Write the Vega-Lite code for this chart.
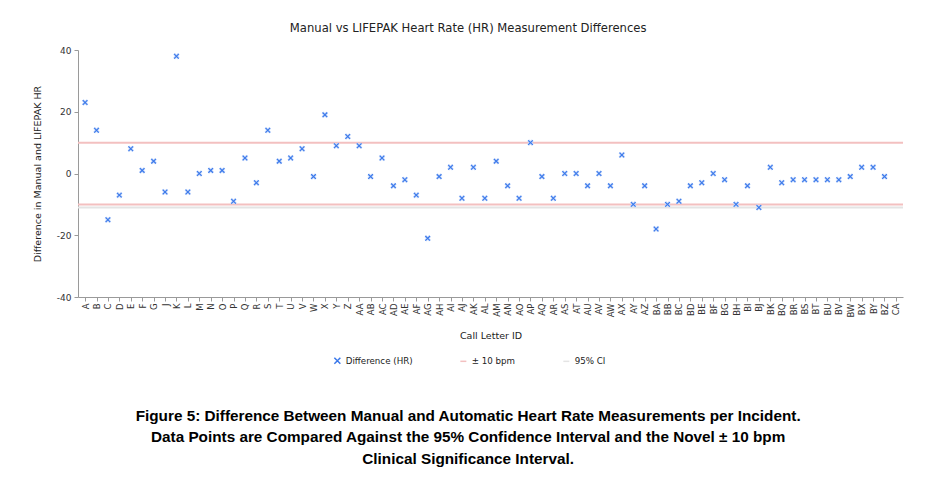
{
  "$schema": "https://vega.github.io/schema/vega-lite/v6.json",
  "padding": {"left": 32, "top": 23, "right": 10, "bottom": 10},
  "background": "white",
  "config": {
    "view": {"stroke": null},
    "font": "DejaVu Sans"
  },
  "datasets": {
    "diffs": [
      {"id": "A", "diff": 23, "series": "Difference (HR)"},
      {"id": "B", "diff": 14, "series": "Difference (HR)"},
      {"id": "C", "diff": -15, "series": "Difference (HR)"},
      {"id": "D", "diff": -7, "series": "Difference (HR)"},
      {"id": "E", "diff": 8, "series": "Difference (HR)"},
      {"id": "F", "diff": 1, "series": "Difference (HR)"},
      {"id": "G", "diff": 4, "series": "Difference (HR)"},
      {"id": "J", "diff": -6, "series": "Difference (HR)"},
      {"id": "K", "diff": 38, "series": "Difference (HR)"},
      {"id": "L", "diff": -6, "series": "Difference (HR)"},
      {"id": "M", "diff": 0, "series": "Difference (HR)"},
      {"id": "N", "diff": 1, "series": "Difference (HR)"},
      {"id": "O", "diff": 1, "series": "Difference (HR)"},
      {"id": "P", "diff": -9, "series": "Difference (HR)"},
      {"id": "Q", "diff": 5, "series": "Difference (HR)"},
      {"id": "R", "diff": -3, "series": "Difference (HR)"},
      {"id": "S", "diff": 14, "series": "Difference (HR)"},
      {"id": "T", "diff": 4, "series": "Difference (HR)"},
      {"id": "U", "diff": 5, "series": "Difference (HR)"},
      {"id": "V", "diff": 8, "series": "Difference (HR)"},
      {"id": "W", "diff": -1, "series": "Difference (HR)"},
      {"id": "X", "diff": 19, "series": "Difference (HR)"},
      {"id": "Y", "diff": 9, "series": "Difference (HR)"},
      {"id": "Z", "diff": 12, "series": "Difference (HR)"},
      {"id": "AA", "diff": 9, "series": "Difference (HR)"},
      {"id": "AB", "diff": -1, "series": "Difference (HR)"},
      {"id": "AC", "diff": 5, "series": "Difference (HR)"},
      {"id": "AD", "diff": -4, "series": "Difference (HR)"},
      {"id": "AE", "diff": -2, "series": "Difference (HR)"},
      {"id": "AF", "diff": -7, "series": "Difference (HR)"},
      {"id": "AG", "diff": -21, "series": "Difference (HR)"},
      {"id": "AH", "diff": -1, "series": "Difference (HR)"},
      {"id": "AI", "diff": 2, "series": "Difference (HR)"},
      {"id": "AJ", "diff": -8, "series": "Difference (HR)"},
      {"id": "AK", "diff": 2, "series": "Difference (HR)"},
      {"id": "AL", "diff": -8, "series": "Difference (HR)"},
      {"id": "AM", "diff": 4, "series": "Difference (HR)"},
      {"id": "AN", "diff": -4, "series": "Difference (HR)"},
      {"id": "AO", "diff": -8, "series": "Difference (HR)"},
      {"id": "AP", "diff": 10, "series": "Difference (HR)"},
      {"id": "AQ", "diff": -1, "series": "Difference (HR)"},
      {"id": "AR", "diff": -8, "series": "Difference (HR)"},
      {"id": "AS", "diff": 0, "series": "Difference (HR)"},
      {"id": "AT", "diff": 0, "series": "Difference (HR)"},
      {"id": "AU", "diff": -4, "series": "Difference (HR)"},
      {"id": "AV", "diff": 0, "series": "Difference (HR)"},
      {"id": "AW", "diff": -4, "series": "Difference (HR)"},
      {"id": "AX", "diff": 6, "series": "Difference (HR)"},
      {"id": "AY", "diff": -10, "series": "Difference (HR)"},
      {"id": "AZ", "diff": -4, "series": "Difference (HR)"},
      {"id": "BA", "diff": -18, "series": "Difference (HR)"},
      {"id": "BB", "diff": -10, "series": "Difference (HR)"},
      {"id": "BC", "diff": -9, "series": "Difference (HR)"},
      {"id": "BD", "diff": -4, "series": "Difference (HR)"},
      {"id": "BE", "diff": -3, "series": "Difference (HR)"},
      {"id": "BF", "diff": 0, "series": "Difference (HR)"},
      {"id": "BG", "diff": -2, "series": "Difference (HR)"},
      {"id": "BH", "diff": -10, "series": "Difference (HR)"},
      {"id": "BI", "diff": -4, "series": "Difference (HR)"},
      {"id": "BJ", "diff": -11, "series": "Difference (HR)"},
      {"id": "BK", "diff": 2, "series": "Difference (HR)"},
      {"id": "BQ", "diff": -3, "series": "Difference (HR)"},
      {"id": "BR", "diff": -2, "series": "Difference (HR)"},
      {"id": "BS", "diff": -2, "series": "Difference (HR)"},
      {"id": "BT", "diff": -2, "series": "Difference (HR)"},
      {"id": "BU", "diff": -2, "series": "Difference (HR)"},
      {"id": "BV", "diff": -2, "series": "Difference (HR)"},
      {"id": "BW", "diff": -1, "series": "Difference (HR)"},
      {"id": "BX", "diff": 2, "series": "Difference (HR)"},
      {"id": "BY", "diff": 2, "series": "Difference (HR)"},
      {"id": "BZ", "diff": -1, "series": "Difference (HR)"}
    ],
    "refs": [
      {"y": 10, "series": "± 10 bpm"},
      {"y": -10, "series": "± 10 bpm"},
      {"y": -11, "series": "95% CI"}
    ]
  },
  "title": {
    "text": [
      "Figure 5: Difference Between Manual and Automatic Heart Rate Measurements per Incident.",
      "Data Points are Compared Against the 95% Confidence Interval and the Novel ± 10 bpm",
      "Clinical Significance Interval."
    ],
    "orient": "bottom",
    "anchor": "middle",
    "frame": "bounds",
    "font": "Liberation Sans",
    "fontSize": 15.3,
    "fontWeight": "bold",
    "lineHeight": 21.3,
    "color": "#000000",
    "offset": 42
  },
  "vconcat": [
    {
      "width": 825,
      "height": 247,
      "title": {
        "text": "Manual vs LIFEPAK Heart Rate (HR) Measurement Differences",
        "anchor": "middle",
        "frame": "bounds",
        "font": "DejaVu Sans",
        "fontSize": 11.6,
        "fontWeight": "normal",
        "color": "#222222",
        "offset": 11
      },
      "layer": [
        {
          "data": {"name": "refs"},
          "mark": {"type": "rule", "strokeWidth": 2},
          "encoding": {
            "y": {"field": "y", "type": "quantitative", "scale": {"domain": [-40, 40], "nice": false}},
            "color": {
              "field": "series",
              "type": "nominal",
              "scale": {
                "domain": ["Difference (HR)", "± 10 bpm", "95% CI"],
                "range": ["#3a78ea", "#f3c0c0", "#e4e4e4"]
              },
              "legend": {
                "title": null,
                "orient": "none",
                "legendX": 255,
                "legendY": 306,
                "direction": "horizontal",
                "columnPadding": 44,
                "labelFont": "DejaVu Sans",
                "labelFontSize": 8.7,
                "labelColor": "#222222",
                "symbolSize": 36,
                "symbolStrokeWidth": 1.5,
                "padding": 0
              }
            }
          }
        },
        {
          "data": {"name": "diffs"},
          "mark": {"type": "point", "shape": "M-1,-1L1,1M1,-1L-1,1", "filled": false, "strokeWidth": 2.6, "size": 22, "color": "#cbdcfb", "opacity": 1},
          "encoding": {
            "x": {"field": "id", "type": "nominal"},
            "y": {"field": "diff", "type": "quantitative"}
          }
        },
        {
          "data": {"name": "diffs"},
          "mark": {"type": "point", "filled": false, "strokeWidth": 1.1, "size": 22, "opacity": 1},
          "encoding": {
            "x": {
              "field": "id",
              "type": "nominal",
              "scale": {
                "type": "point",
                "padding": 0.62,
                "domain": ["A","B","C","D","E","F","G","J","K","L","M","N","O","P","Q","R","S","T","U","V","W","X","Y","Z","AA","AB","AC","AD","AE","AF","AG","AH","AI","AJ","AK","AL","AM","AN","AO","AP","AQ","AR","AS","AT","AU","AV","AW","AX","AY","AZ","BA","BB","BC","BD","BE","BF","BG","BH","BI","BJ","BK","BQ","BR","BS","BT","BU","BV","BW","BX","BY","BZ","CA"]
              },
              "axis": {
                "title": "Call Letter ID",
                "titleFont": "DejaVu Sans",
                "titleFontSize": 9.5,
                "titleFontWeight": "normal",
                "titleColor": "#222222",
                "titlePadding": 14,
                "labelAngle": -90,
                "labelFont": "DejaVu Sans",
                "labelFontSize": 8.5,
                "labelColor": "#333333",
                "labelOverlap": false,
                "labelPadding": 2,
                "tickSize": 4,
                "tickColor": "#9a9a9a",
                "domainColor": "#9a9a9a",
                "grid": false
              }
            },
            "y": {
              "field": "diff",
              "type": "quantitative",
              "axis": {
                "title": "Difference in Manual and LIFEPAK HR",
                "titleFont": "DejaVu Sans",
                "titleFontSize": 9.5,
                "titleFontWeight": "normal",
                "titleColor": "#222222",
                "titlePadding": 14,
                "values": [-40, -20, 0, 20, 40],
                "labelExpr": "replace(datum.label, '−', '-')",
                "labelFont": "DejaVu Sans",
                "labelFontSize": 9,
                "labelColor": "#333333",
                "labelPadding": 3,
                "tickSize": 4,
                "tickColor": "#9a9a9a",
                "domainColor": "#9a9a9a",
                "grid": false
              }
            },
            "color": {"field": "series", "type": "nominal"},
            "shape": {
              "field": "series",
              "type": "nominal",
              "scale": {
                "domain": ["Difference (HR)", "± 10 bpm", "95% CI"],
                "range": ["M-1,-1L1,1M1,-1L-1,1", "stroke", "stroke"]
              },
              "legend": {"title": null}
            }
          }
        }
      ]
    }
  ]
}
